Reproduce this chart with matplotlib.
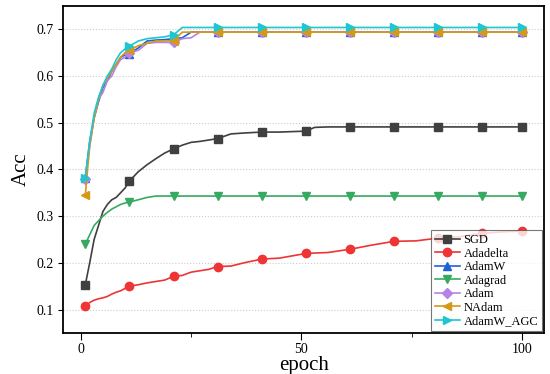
import matplotlib
matplotlib.use("Agg")
import matplotlib.pyplot as plt
from matplotlib.ticker import MultipleLocator

plt.rcParams['font.family'] = ['Liberation Serif', 'DejaVu Serif']

epochs = [1, 2, 3, 4, 5, 6, 7, 8, 9, 10, 11, 13, 15, 17, 19, 21, 23, 25, 27, 29,
          31, 34, 37, 41, 45, 48, 51, 53, 56, 61, 66, 71, 76, 81, 86, 91, 95, 100]
marker_epochs = [1, 11, 21, 31, 41, 51, 61, 71, 81, 91, 100]

sgd = [0.153, 0.20, 0.25, 0.28, 0.31, 0.325, 0.335, 0.34, 0.35, 0.36, 0.375, 0.395,
       0.41, 0.423, 0.435, 0.444, 0.452, 0.458, 0.46, 0.463, 0.466, 0.476, 0.478,
       0.48, 0.48, 0.481, 0.482, 0.49, 0.491, 0.491, 0.491, 0.491, 0.491, 0.491,
       0.491, 0.491, 0.491, 0.491]
adadelta = [0.107, 0.115, 0.12, 0.123, 0.125, 0.128, 0.133, 0.137, 0.14, 0.145, 0.15,
            0.153, 0.157, 0.16, 0.163, 0.171, 0.173, 0.18, 0.183, 0.186, 0.192,
            0.193, 0.2, 0.208, 0.21, 0.215, 0.22, 0.221, 0.222, 0.229, 0.238, 0.246,
            0.247, 0.253, 0.256, 0.263, 0.266, 0.268]
adamw = [0.382, 0.46, 0.51, 0.545, 0.575, 0.59, 0.61, 0.625, 0.64, 0.645, 0.648,
         0.66, 0.675, 0.677, 0.678, 0.68, 0.682, 0.694, 0.694, 0.694, 0.694, 0.694,
         0.694, 0.694, 0.694, 0.694, 0.694, 0.694, 0.694, 0.694, 0.694, 0.694,
         0.694, 0.694, 0.694, 0.694, 0.694, 0.694]
adagrad = [0.24, 0.26, 0.28, 0.29, 0.30, 0.308, 0.315, 0.32, 0.325, 0.328, 0.33,
           0.335, 0.34, 0.343, 0.343, 0.343, 0.343, 0.343, 0.343, 0.343, 0.343,
           0.343, 0.343, 0.343, 0.343, 0.343, 0.343, 0.343, 0.343, 0.343, 0.343,
           0.343, 0.343, 0.343, 0.343, 0.343, 0.343, 0.343]
adam = [0.38, 0.45, 0.51, 0.55, 0.565, 0.59, 0.60, 0.62, 0.635, 0.64, 0.65, 0.655,
        0.67, 0.672, 0.672, 0.672, 0.68, 0.682, 0.694, 0.694, 0.694, 0.694, 0.694,
        0.694, 0.694, 0.694, 0.694, 0.694, 0.694, 0.694, 0.694, 0.694, 0.694,
        0.694, 0.694, 0.694, 0.694, 0.694]
nadam = [0.345, 0.45, 0.51, 0.55, 0.58, 0.595, 0.61, 0.625, 0.64, 0.65, 0.655,
         0.665, 0.67, 0.675, 0.675, 0.676, 0.694, 0.694, 0.694, 0.694, 0.694, 0.694,
         0.694, 0.694, 0.694, 0.694, 0.694, 0.694, 0.694, 0.694, 0.694, 0.694,
         0.694, 0.694, 0.694, 0.694, 0.694, 0.694]
adamw_agc = [0.382, 0.46, 0.52, 0.555, 0.58, 0.60, 0.615, 0.635, 0.65, 0.658, 0.664,
             0.675, 0.68, 0.682, 0.684, 0.688, 0.704, 0.704, 0.704, 0.704, 0.704,
             0.704, 0.704, 0.704, 0.704, 0.704, 0.704, 0.704, 0.704, 0.704, 0.704,
             0.704, 0.704, 0.704, 0.704, 0.704, 0.704, 0.704]

series = [("SGD", sgd, "#404040", "s"),
          ("Adadelta", adadelta, "#ee3434", "o"),
          ("AdamW", adamw, "#2060d8", "^"),
          ("Adagrad", adagrad, "#35aa60", "v"),
          ("Adam", adam, "#b583e6", "D"),
          ("NAdam", nadam, "#d49a16", "<"),
          ("AdamW_AGC", adamw_agc, "#1ec6d2", ">")]

mark_idx = [epochs.index(e) for e in marker_epochs]

fig = plt.figure(figsize=(5.5, 3.74), dpi=100)
ax = fig.add_axes([0.115, 0.11, 0.874, 0.874])

for name, vals, color, mk in series:
    ms = 5 if mk == "D" else 6
    ax.plot(epochs, vals, color=color, marker=mk, markersize=ms, linewidth=1.2,
            markevery=mark_idx, label=name)

ax.set_xlim(-4, 105)
ax.set_ylim(0.05, 0.75)
ax.xaxis.set_major_locator(MultipleLocator(50))
ax.xaxis.set_minor_locator(MultipleLocator(25))
ax.yaxis.set_major_locator(MultipleLocator(0.1))
ax.tick_params(axis='both', which='both', direction='out', labelsize=10)
ax.tick_params(axis='x', which='major', length=5, pad=2)
ax.tick_params(axis='x', which='minor', length=3)
ax.grid(axis='y', linestyle=':', color='#cccccc', linewidth=0.8)
for sp in ax.spines.values():
    sp.set_linewidth(1.3)

ax.set_xlabel("epoch", fontsize=15, labelpad=0)
ax.set_ylabel("Acc", fontsize=15, labelpad=4)

leg = ax.legend(loc='lower right', fontsize=9, frameon=True, fancybox=False,
                edgecolor='#555555', borderpad=0.3, labelspacing=0.12,
                handlelength=2.0, handletextpad=0.3, borderaxespad=0.15)
leg.get_frame().set_linewidth(0.8)

fig.savefig("out.png", dpi=100)
